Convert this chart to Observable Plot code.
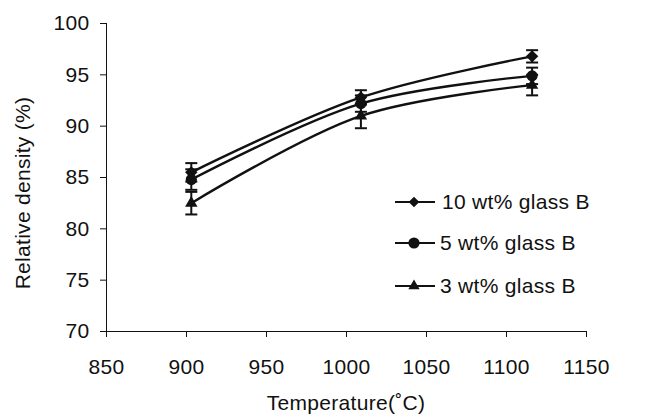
<!DOCTYPE html>
<html>
<head>
<meta charset="utf-8">
<script src="https://cdn.jsdelivr.net/npm/d3@7"></script>
<script src="https://cdn.jsdelivr.net/npm/@observablehq/plot@0.6"></script>
<style>
  html, body { margin: 0; padding: 0; background: #fff; }
  #wrap { position: relative; width: 646px; height: 417px; font-family: "Liberation Sans", Arial, sans-serif; color: #111; }
  .ttl { position: absolute; font-size: 21px; white-space: nowrap; letter-spacing: 0.3px; }
  #legend { position: absolute; left: 0; top: 0; }
</style>
</head>
<body>
<div id="wrap"></div>
<script>
// ---- data ----
const temperatures = [903, 1009, 1116];
const seriesNames = ["10 wt% glass B", "5 wt% glass B", "3 wt% glass B"];
const density10 = [85.5, 92.8, 96.8];
const error10   = [0.9, 0.7, 0.6];
const density5  = [84.8, 92.2, 94.9];
const error5    = [1.0, 0.8, 0.8];
const density3  = [82.5, 91.0, 94.0];
const error3    = [1.1, 1.2, 1.0];
const xTicks = [850, 900, 950, 1000, 1050, 1100, 1150];
const yTicks = [70, 75, 80, 85, 90, 95, 100];
const xTitle = "Temperature(˚C)";
const yTitle = "Relative density (%)";

const seriesSymbols = ["diamond2", "circle", "triangle"];
const seriesR = [5.6, 5.6, 4.6];

const allDensity = [density10, density5, density3];
const allError = [error10, error5, error3];
const rows = [];
seriesNames.forEach((s, i) => {
  temperatures.forEach((t, j) => {
    rows.push({series: s, si: i, t, d: allDensity[i][j], lo: allDensity[i][j] - allError[i][j], hi: allDensity[i][j] + allError[i][j]});
  });
});

const capSymbol = {
  draw(ctx, size) {
    const r = Math.sqrt(size / Math.PI);
    ctx.moveTo(-r, 0);
    ctx.lineTo(r, 0);
  }
};

const marks = [
  Plot.ruleX([xTicks[0]], {stroke: "#111", strokeWidth: 1}),
  Plot.ruleY([yTicks[0]], {stroke: "#111", strokeWidth: 1}),
  Plot.line(rows, {x: "t", y: "d", z: "series", curve: "catmull-rom", stroke: "#111", strokeWidth: 2.4}),
  Plot.ruleX(rows, {x: "t", y1: "lo", y2: "hi", stroke: "#111", strokeWidth: 2}),
  Plot.dot(rows, {x: "t", y: "lo", symbol: capSymbol, r: 6, fill: "none", stroke: "#111", strokeWidth: 2}),
  Plot.dot(rows, {x: "t", y: "hi", symbol: capSymbol, r: 6, fill: "none", stroke: "#111", strokeWidth: 2})
];
seriesNames.forEach((s, i) => {
  marks.push(Plot.dot(rows.filter(d => d.si === i), {x: "t", y: "d", symbol: seriesSymbols[i], r: seriesR[i], fill: "#111", stroke: "none"}));
});

const chart = Plot.plot({
  width: 646,
  height: 417,
  marginLeft: 106,
  marginRight: 60,
  marginTop: 23,
  marginBottom: 86,
  style: {fontFamily: "Liberation Sans, Arial, sans-serif", fontSize: "21px", color: "#111", background: "#fff", letterSpacing: "0.3px"},
  x: {domain: [850, 1150], ticks: xTicks, tickSize: 6, tickPadding: 22, label: null, tickFormat: d => String(d)},
  y: {domain: [70, 100], ticks: yTicks, tickSize: 6, tickPadding: 11, label: null, tickFormat: d => String(d)},
  marks
});

const wrap = document.getElementById("wrap");
wrap.appendChild(chart);

// axis titles
const xt = document.createElement("div");
xt.className = "ttl";
xt.textContent = xTitle;
xt.style.left = "346px"; xt.style.top = "403px";
xt.style.transform = "translate(-50%, -50%)";
wrap.appendChild(xt);

const yt = document.createElement("div");
yt.className = "ttl";
yt.textContent = yTitle;
yt.style.left = "23px"; yt.style.top = "193px";
yt.style.transform = "translate(-50%, -50%) rotate(-90deg)";
wrap.appendChild(yt);

// legend (drawn with d3 symbols)
const symMap = {diamond2: d3.symbolDiamond2, circle: d3.symbolCircle, triangle: d3.symbolTriangle};
const legendSvg = d3.select(wrap).append("svg")
  .attr("id", "legend").attr("width", 646).attr("height", 417)
  .style("pointer-events", "none");
const legendRowsY = [202, 243, 286];
const legendR = [4.8, 5.6, 4.2];
seriesNames.forEach((s, i) => {
  const g = legendSvg.append("g").attr("transform", `translate(0,${legendRowsY[i]})`);
  g.append("line").attr("x1", 395).attr("x2", 435).attr("y1", 0).attr("y2", 0).attr("stroke", "#111").attr("stroke-width", 2);
  g.append("path").attr("transform", "translate(414,0)")
    .attr("d", d3.symbol(symMap[seriesSymbols[i]], Math.PI * legendR[i] * legendR[i])())
    .attr("fill", "#111");
  g.append("text").attr("x", i === 0 ? 442 : 440).attr("y", 0).attr("dy", "0.35em")
    .attr("font-family", "Liberation Sans, Arial, sans-serif").attr("font-size", 21)
    .attr("letter-spacing", "0.3px").attr("fill", "#111").text(s);
});
</script>
</body>
</html>
